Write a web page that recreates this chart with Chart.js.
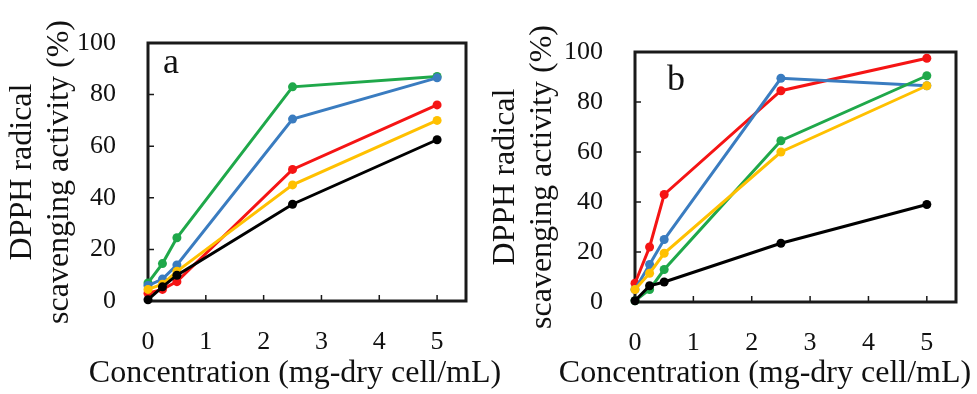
<!DOCTYPE html>
<html>
<head>
<meta charset="utf-8">
<script src="https://cdn.jsdelivr.net/npm/chart.js@4/dist/chart.umd.min.js"></script>
<style>
  html, body { margin: 0; padding: 0; background: #fff; }
  #wrap { position: relative; width: 977px; height: 394px; overflow: hidden; }
  canvas { position: absolute; top: 0; }
  #chart-a { left: 0; }
  #chart-b { left: 480px; }
</style>
</head>
<body>
<div id="wrap">
  <canvas id="chart-a" width="520" height="394"></canvas>
  <canvas id="chart-b" width="497" height="394"></canvas>
</div>
<script>
// concentration (mg-dry cell/mL)
const concentrations = [0, 0.25, 0.5, 2.5, 5];
const xTicks = [0, 1, 2, 3, 4, 5];
const yTicks = [0, 20, 40, 60, 80, 100];

// panel a
const aBlack  = [0.5, 5.5, 10, 37.5, 62.5];
const aYellow = [4.5, 6.5, 11.5, 45, 70];
const aRed    = [3, 4.5, 7.5, 51, 76];
const aBlue   = [6, 8.5, 14, 70.5, 86.5];
const aGreen  = [7, 14.5, 24.5, 83, 87];

// panel b
const bBlack  = [0.5, 6.5, 8, 23.5, 39];
const bYellow = [5, 11.5, 19.5, 60, 86.5];
const bGreen  = [0.5, 5, 13, 64.5, 90.5];
const bBlue   = [5, 15, 25, 89.5, 86.5];
const bRed    = [7.5, 22, 43, 84.5, 97.5];

const COLORS = {
  black: '#000000',
  yellow: '#ffc000',
  red: '#f51414',
  blue: '#3a7cc0',
  green: '#1fa84a',
};

const SERIF = '"Liberation Serif", "DejaVu Serif", serif';
const textColor = '#111';

Chart.defaults.font.family = SERIF;
Chart.defaults.color = textColor;

function serie(values, color) {
  return {
    data: concentrations.map((c, i) => ({ x: c, y: values[i] })),
    borderColor: color,
    backgroundColor: color,
    pointBackgroundColor: color,
    pointBorderWidth: 0,
    pointRadius: 4.5,
    borderWidth: 3,
    showLine: true,
    clip: false,
  };
}

// moldura + ticks para dentro
const framePlugin = {
  id: 'frame',
  beforeDatasetsDraw(chart) {
    const { ctx, chartArea: a, scales: { x, y } } = chart;
    ctx.save();
    ctx.strokeStyle = '#1a1a1a';
    ctx.lineWidth = 3;
    ctx.strokeRect(a.left, a.top, a.width, a.height);
    ctx.lineWidth = 1.5;
    ctx.beginPath();
    x.ticks.forEach(t => {
      if (t.value <= 0) return;
      const px = x.getPixelForValue(t.value);
      ctx.moveTo(px, a.bottom);
      ctx.lineTo(px, a.bottom - 6);
    });
    y.ticks.forEach(t => {
      if (t.value <= 0 || t.value >= 100) return;
      const py = y.getPixelForValue(t.value);
      ctx.moveTo(a.left, py);
      ctx.lineTo(a.left + 6, py);
    });
    ctx.stroke();
    ctx.restore();
  }
};

// letra do painel + titulo do eixo x
const textPlugin = {
  id: 'panelText',
  afterDraw(chart, args, opts) {
    const { ctx, chartArea: a } = chart;
    ctx.save();
    ctx.fillStyle = textColor;
    ctx.textBaseline = 'alphabetic';
    ctx.textAlign = 'left';
    ctx.font = `36px ${SERIF}`;
    ctx.fillText(opts.letter, a.left + opts.letterDx, a.top + opts.letterDy);
    ctx.textAlign = 'center';
    ctx.textBaseline = 'middle';
    ctx.font = `32px ${SERIF}`;
    ctx.fillText('Concentration (mg-dry cell/mL)', a.left + opts.titleDx, opts.titleY);
    ctx.restore();
  }
};

function makeChart(id, datasets, layout) {
  return new Chart(document.getElementById(id), {
    type: 'scatter',
    data: { datasets },
    plugins: [framePlugin, textPlugin],
    options: {
      responsive: false,
      animation: false,
      devicePixelRatio: 1,
      layout: { padding: { left: 0, top: layout.top, right: layout.right, bottom: 0 } },
      plugins: {
        legend: { display: false },
        tooltip: { enabled: false },
        panelText: layout.text,
      },
      scales: {
        x: {
          type: 'linear',
          min: 0,
          max: 5.5,
          afterBuildTicks: s => { s.ticks = xTicks.map(v => ({ value: v })); },
          afterFit: s => { s.height = layout.xHeight; },
          grid: { display: false },
          border: { display: false },
          ticks: { color: textColor, font: { family: SERIF, size: 26 }, padding: 18, maxRotation: 0 },
        },
        y: {
          min: 0,
          max: 100,
          afterBuildTicks: s => { s.ticks = yTicks.map(v => ({ value: v })); },
          afterFit: s => { s.width = layout.yWidth; },
          grid: { display: false },
          border: { display: false },
          ticks: { color: textColor, font: { family: SERIF, size: 26 }, padding: 24 },
          title: {
            display: true,
            text: ['DPPH radical', 'scavenging activity (%)'],
            color: textColor,
            font: { family: SERIF, size: 32, lineHeight: 1.15 },
            padding: { top: layout.yTitlePad, bottom: 0 },
          },
        },
      },
    },
  });
}

makeChart('chart-a', [
  serie(aBlack, COLORS.black),
  serie(aYellow, COLORS.yellow),
  serie(aRed, COLORS.red),
  serie(aBlue, COLORS.blue),
  serie(aGreen, COLORS.green),
], {
  top: 43, right: 54, yWidth: 148, xHeight: 93, yTitlePad: 4.5,
  text: { letter: 'a', letterDx: 15, letterDy: 30, titleDx: 147, titleY: 374 },
});

makeChart('chart-b', [
  serie(bBlack, COLORS.black),
  serie(bYellow, COLORS.yellow),
  serie(bGreen, COLORS.green),
  serie(bBlue, COLORS.blue),
  serie(bRed, COLORS.red),
], {
  top: 52, right: 21, yWidth: 155, xHeight: 92, yTitlePad: 7.5,
  text: { letter: 'b', letterDx: 32, letterDy: 38, titleDx: 130, titleY: 374 },
});
</script>
</body>
</html>
